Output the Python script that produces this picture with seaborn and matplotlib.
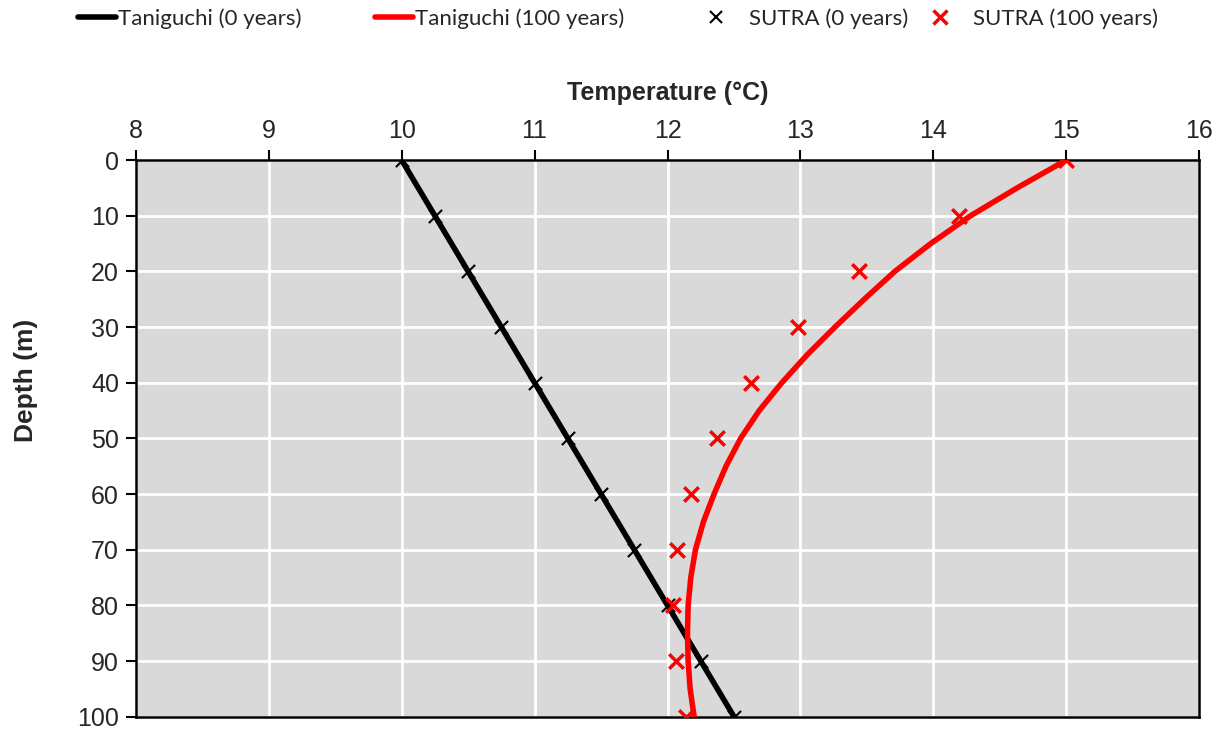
import numpy as np
import pandas as pd
import seaborn as sns
import matplotlib.pyplot as plt
from matplotlib.lines import Line2D

# depth (m) and temperature (C)
depth_t0 = [0, 100]
temp_t0 = [10.0, 12.5]

depth_t100 = [0, 5, 10, 15, 20, 25, 30, 35, 40, 45, 50, 55, 60, 65, 70, 75, 80, 85, 90, 95, 100]
temp_t100 = [15.0, 14.63, 14.28, 13.98, 13.71, 13.48, 13.26, 13.05, 12.86, 12.69, 12.55,
             12.44, 12.35, 12.27, 12.21, 12.175, 12.155, 12.15, 12.155, 12.17, 12.2]

sutra_depth = [0, 10, 20, 30, 40, 50, 60, 70, 80, 90, 100]
sutra_t0 = [10.0, 10.25, 10.5, 10.75, 11.0, 11.25, 11.5, 11.75, 12.0, 12.25, 12.5]
sutra_t100 = [15.0, 14.19, 13.44, 12.98, 12.63, 12.37, 12.18, 12.07, 12.04, 12.06, 12.14]

sns.set_theme(style='white')
plt.rcParams['font.family'] = ['Liberation Sans', 'DejaVu Sans']

fig = plt.figure(figsize=(12.2, 7.29), dpi=100)
ax = fig.add_axes([0.1112, 0.0169, 0.9831 - 0.1112, 0.7805 - 0.0169])
ax.set_facecolor('#d9d9d9')

df0 = pd.DataFrame({'temp': temp_t0, 'depth': depth_t0})
df100 = pd.DataFrame({'temp': temp_t100, 'depth': depth_t100})
ds = pd.DataFrame({'depth': sutra_depth, 't0': sutra_t0, 't100': sutra_t100})

sns.lineplot(data=df0, x='temp', y='depth', sort=False, estimator=None, color='black', lw=4, ax=ax, zorder=3)
sns.lineplot(data=df100, x='temp', y='depth', sort=False, estimator=None, color='red', lw=4, ax=ax, zorder=3)
sns.scatterplot(data=ds, x='t0', y='depth', marker='x', color='black', s=90, linewidth=1.5, ax=ax, zorder=4)
sns.scatterplot(data=ds, x='t100', y='depth', marker='x', color='red', s=110, linewidth=2.5, ax=ax, zorder=4)
for l in ax.get_lines():
    l.set_solid_joinstyle('round')

ax.set_xlim(8, 16)
ax.set_ylim(100, 0)
ax.set_xticks(range(8, 17))
ax.set_yticks(range(0, 101, 10))
ax.grid(True, color='white', lw=2)
ax.set_axisbelow(True)
ax.xaxis.tick_top()
ax.xaxis.set_label_position('top')
ax.tick_params(axis='both', labelsize=18, length=7, width=1.5, color='black', direction='out',
               left=True, top=True, bottom=False, pad=5)
for s in ax.spines.values():
    s.set_color('black')
    s.set_linewidth(1.8)
ax.set_xlabel('Temperature (°C)', fontsize=18, fontweight='bold', labelpad=14)
ax.set_ylabel('Depth (m)', fontsize=19, fontweight='bold')
ax.yaxis.set_label_coords(-0.092, 0.605)

# legend: one entry per box so the spacing follows the original
entries = [
    (Line2D([], [], color='black', lw=4), 'Taniguchi (0 years)', 78, 1.7, 0.1),
    (Line2D([], [], color='red', lw=4), 'Taniguchi (100 years)', 375, 1.7, 0.1),
    (Line2D([], [], color='black', marker='x', ls='none', markersize=9, mew=1.5), 'SUTRA (0 years)', 705, 1.0, 1.0),
    (Line2D([], [], color='red', marker='x', ls='none', markersize=10, mew=2.5), 'SUTRA (100 years)', 929, 1.0, 1.0),
]
for h, lab, x0, hl, pad in entries:
    fig.legend([h], [lab], loc='center left', bbox_to_anchor=(x0 / 1220, 0.975), frameon=False,
               prop={'family': 'Lato', 'size': 16}, handlelength=hl, handletextpad=pad,
               borderaxespad=0, borderpad=0)

fig.savefig('out.png', dpi=100)
